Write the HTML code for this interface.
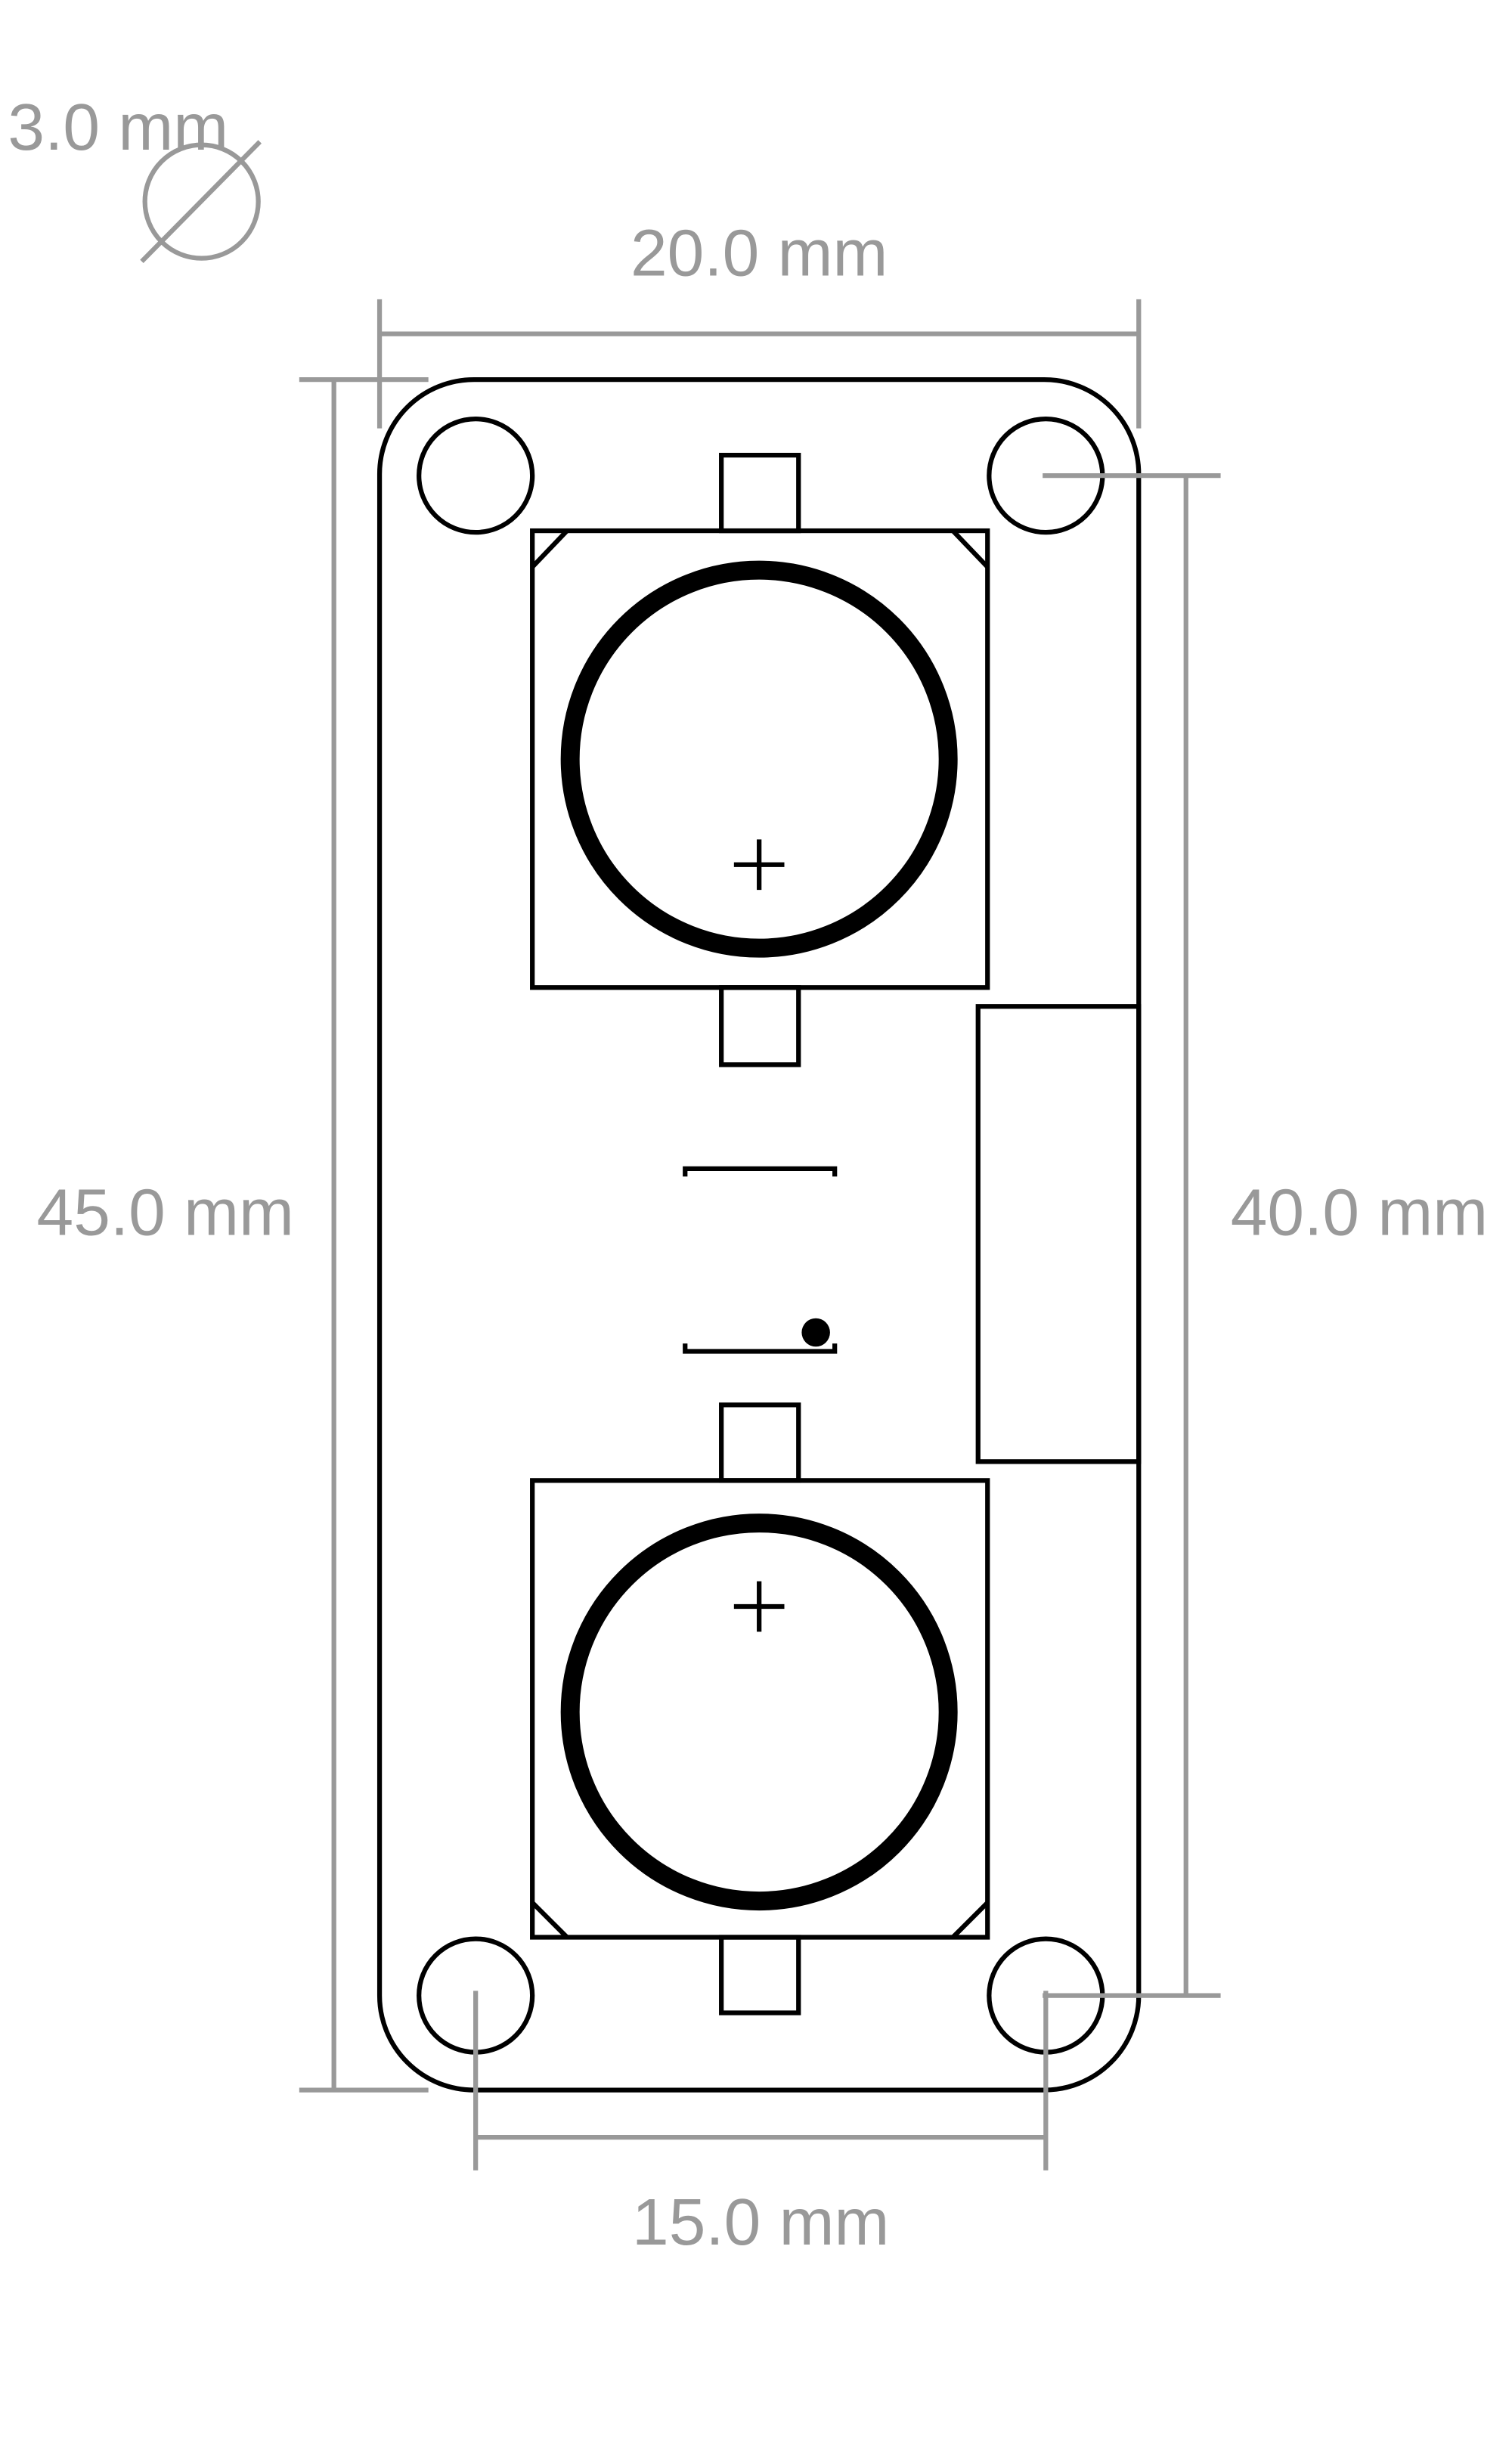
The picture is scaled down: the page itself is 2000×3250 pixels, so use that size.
<!DOCTYPE html>
<html><head><meta charset="utf-8"><style>html,body{margin:0;padding:0;background:#fff}svg{display:block}</style></head>
<body>
<svg width="2000" height="3250" viewBox="0 0 960 1560" preserveAspectRatio="none" xmlns="http://www.w3.org/2000/svg">
<g fill="none" stroke="#000" stroke-width="3">
<rect x="241" y="241" width="482" height="1086" rx="60"/>
<circle cx="302" cy="302" r="36"/>
<circle cx="664" cy="302" r="36"/>
<circle cx="302" cy="1267" r="36"/>
<circle cx="664" cy="1267" r="36"/>
<g>
<rect x="458" y="289" width="49" height="48"/><rect x="458" y="627" width="49" height="49"/>
<rect x="338" y="337" width="289" height="290"/>
<line x1="338" y1="360" x2="360" y2="337"/><line x1="605" y1="337" x2="627" y2="360"/>
<circle cx="482" cy="482" r="120" stroke-width="12"/>
<path d="M466 549H498M482 533V565"/>
</g>
<g>
<rect x="458" y="892" width="49" height="48"/><rect x="458" y="1230" width="49" height="48"/>
<rect x="338" y="940" width="289" height="290"/>
<line x1="338" y1="1208" x2="360" y2="1230"/><line x1="605" y1="1230" x2="627" y2="1208"/>
<circle cx="482" cy="1087" r="120" stroke-width="12"/>
<path d="M466 1020H498M482 1004V1036"/>
</g>
<rect x="621" y="639" width="102" height="289"/>
<path d="M435 747V742H530V747M435 853V858H530V853"/>
</g>
<circle cx="518" cy="846" r="9" fill="#000"/>
<g stroke="#999" stroke-width="3" fill="none">
<path d="M241 212H723M241 190V272M723 190V272"/>
<path d="M212 241V1327M190 241H272M190 1327H272"/>
<path d="M753 302V1267M662 302H775M662 1267H775"/>
<path d="M302 1357H664M302 1264V1378M664 1264V1378"/>
<circle cx="128" cy="128" r="36"/>
<line x1="90" y1="166" x2="165" y2="90"/>
</g>
<g fill="#999" font-family="Liberation Sans, sans-serif" font-size="42">
<text x="5" y="95">3.0 mm</text>
<text x="482" y="175" text-anchor="middle">20.0 mm</text>
<text x="105" y="784" text-anchor="middle">45.0 mm</text>
<text x="863" y="784" text-anchor="middle">40.0 mm</text>
<text x="483" y="1425" text-anchor="middle">15.0 mm</text>
</g>
</svg>
</body></html>
